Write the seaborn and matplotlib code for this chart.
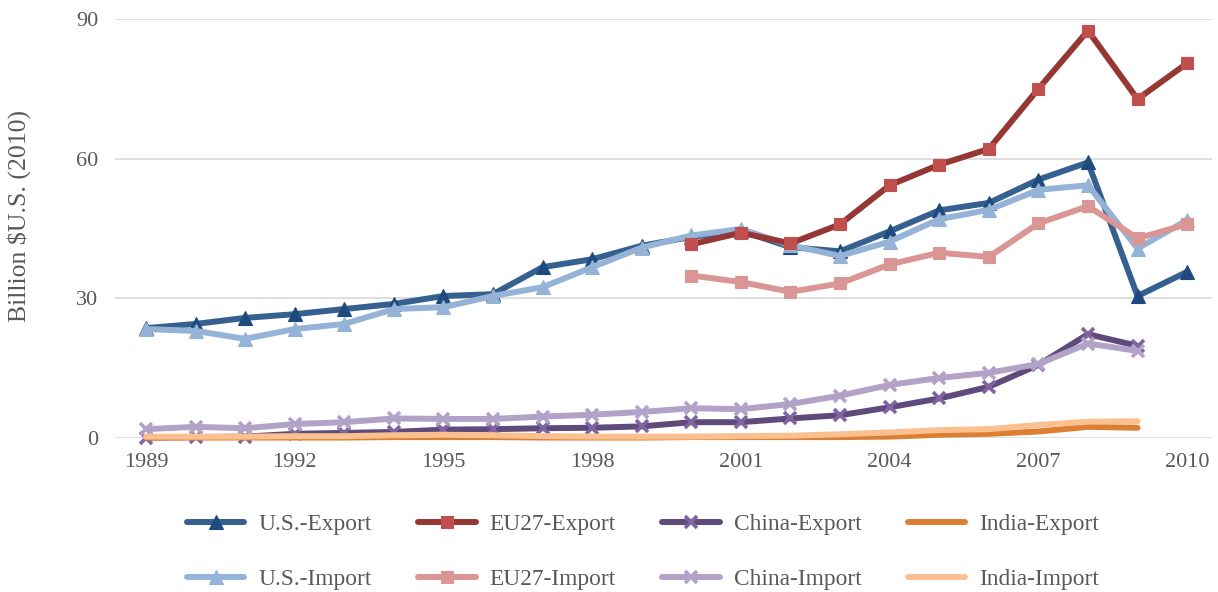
import numpy as np
import pandas as pd
import matplotlib
matplotlib.use("Agg")
import matplotlib.pyplot as plt
import seaborn as sns

# Years on the category axis
years = list(range(1989, 2011))
year_ticks = [1989, 1992, 1995, 1998, 2001, 2004, 2007, 2010]
y_ticks = [0, 30, 60, 90]

# Trade values, billion $U.S. (2010)
us_export = [23.6, 24.5, 25.8, 26.6, 27.7, 28.8, 30.5, 30.9, 36.7, 38.4, 41.3,
             43.2, 44.5, 41.0, 40.1, 44.4, 48.9, 50.5, 55.5, 59.2, 30.5, 35.7]
us_import = [23.4, 23.0, 21.3, 23.4, 24.5, 27.7, 28.1, 30.5, 32.4, 36.7, 40.9,
             43.5, 44.9, 41.4, 39.1, 42.2, 47.0, 49.0, 53.3, 54.3, 40.7, 46.8]

eu_years = list(range(2000, 2011))
eu_export = [41.6, 44.1, 41.8, 45.9, 54.3, 58.7, 62.1, 75.0, 87.5, 72.8, 80.5]
eu_import = [34.9, 33.5, 31.4, 33.2, 37.3, 39.8, 38.9, 46.1, 49.8, 42.9, 45.9]

asia_years = list(range(1989, 2010))
china_export = [0.1, 0.2, 0.3, 0.9, 1.1, 1.3, 1.8, 1.9, 2.1, 2.2, 2.5,
                3.4, 3.4, 4.2, 4.9, 6.6, 8.5, 11.0, 15.7, 22.3, 19.8]
china_import = [1.9, 2.4, 2.1, 3.0, 3.4, 4.2, 4.1, 4.1, 4.6, 5.0, 5.6,
                6.4, 6.2, 7.3, 9.1, 11.4, 12.9, 14.0, 15.9, 20.3, 18.7]
india_export = [0.1, 0.1, 0.1, 0.1, 0.1, 0.2, 0.2, 0.2, 0.1, 0.1, 0.1,
                0.2, 0.2, 0.2, 0.2, 0.3, 0.7, 0.9, 1.4, 2.4, 2.2]
india_import = [0.3, 0.3, 0.3, 0.4, 0.4, 0.6, 0.7, 0.6, 0.4, 0.3, 0.3,
                0.3, 0.4, 0.5, 0.8, 1.2, 1.7, 1.9, 2.8, 3.5, 3.6]

# label, x, y, line colour, marker, marker colour
series = [
    ("U.S.-Export", years, us_export, "#35608F", "^", "#1F4A7D"),
    ("U.S.-Import", years, us_import, "#95B3D7", "^", "#95B3D7"),
    ("EU27-Export", eu_years, eu_export, "#953735", "s", "#C0504D"),
    ("EU27-Import", eu_years, eu_import, "#D99694", "s", "#D99694"),
    ("China-Export", asia_years, china_export, "#5F4B7B", "x", "#8064A2"),
    ("China-Import", asia_years, china_import, "#B3A2C7", "x", "#B3A2C7"),
    ("India-Export", asia_years, india_export, "#DD7F33", None, None),
    ("India-Import", asia_years, india_import, "#FAC090", None, None),
]

sns.set_theme(style="white")
plt.rcParams["font.family"] = ["Liberation Serif", "DejaVu Serif"]
text_color = "#595959"

fig = plt.figure(figsize=(12.18, 5.92), dpi=100)
ax = fig.add_axes([0.0944, 0.2601, 0.9006, 0.7078])

handles = []
for i, (label, xs, ys, lc, mk, mc) in enumerate(series):
    df = pd.DataFrame({"year": xs, "value": ys})
    kw = dict(linewidth=4.3, solid_capstyle="round", solid_joinstyle="round",
              zorder=3 + i, clip_on=False)
    if mk is not None:
        if mk == "x":
            kw.update(marker="x", markersize=8, markeredgewidth=2.6,
                      markeredgecolor=mc, markerfacecolor=mc)
        else:
            kw.update(marker=mk, markersize=9.5 if mk == "^" else 8.5,
                      markeredgewidth=0.8, markeredgecolor=mc, markerfacecolor=mc)
    sns.lineplot(data=df, x="year", y="value", color=lc, ax=ax, label=label,
                 legend=False, **kw)
    handles.append(ax.lines[-1])

ax.set_xlim(1988.375, 2010.5)
ax.set_ylim(0, 90)
ax.set_xticks(year_ticks)
ax.set_xticklabels([str(y) for y in year_ticks])
ax.set_yticks(y_ticks)
ax.set_yticklabels([str(v) for v in y_ticks])
ax.grid(axis="y", color="#D9D9D9", linewidth=1.2, zorder=0)
ax.grid(axis="x", visible=False)
for s in ax.spines.values():
    s.set_visible(False)
ax.tick_params(axis="both", length=0, labelsize=16, colors=text_color)
ax.tick_params(axis="y", pad=12)
ax.tick_params(axis="x", pad=11)
ax.set_xlabel("")
ax.set_ylabel("Billion $U.S. (2010)", fontsize=18.5, color=text_color)
ax.yaxis.set_label_coords(-0.077, 0.529)

leg = fig.legend(handles=handles, labels=[s[0] for s in series], ncol=4,
                 loc="center", bbox_to_anchor=(0.528, 0.068), frameon=False,
                 fontsize=16.8, handlelength=2.45, handletextpad=0.6,
                 columnspacing=2.0, labelspacing=1.45)
for t in leg.get_texts():
    t.set_color(text_color)

fig.savefig("out.png", dpi=100)
